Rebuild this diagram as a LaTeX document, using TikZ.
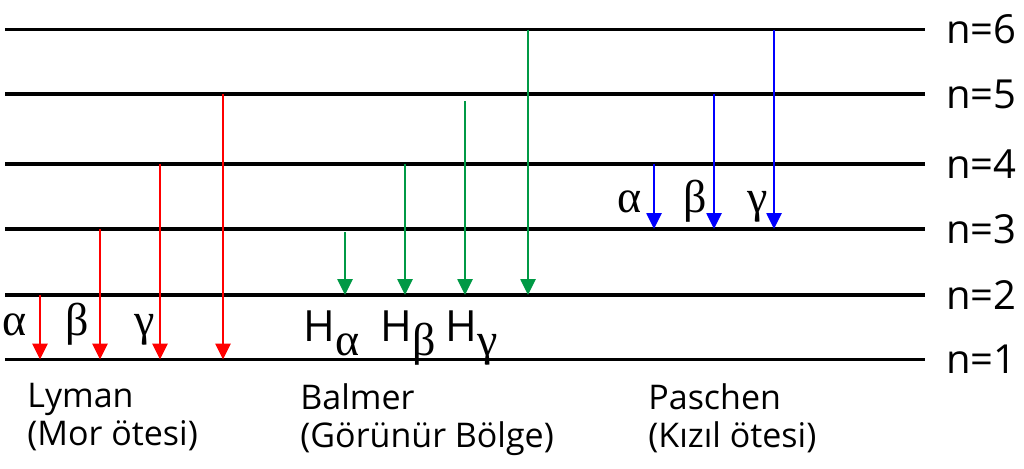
\documentclass[tikz,border=0pt]{standalone}
\usepackage{fontspec}
\setmainfont{Open Sans}
\newfontfamily\greekfont{Liberation Serif}
\usetikzlibrary{arrows.meta}
\definecolor{balmergreen}{rgb}{0,0.6,0.27}

\begin{document}
\begin{tikzpicture}[x=0.5pt,y=-0.5pt,
  level/.style={line width=1.6pt},
  jump/.style={line width=1.3pt,-{Triangle[length=8pt,width=7.5pt]}},
  greek/.style={inner sep=0pt,anchor=base,font=\fontsize{23}{23}\greekfont},
  series/.style={inner sep=0pt,anchor=north west,align=left,font=\fontsize{17}{19}\selectfont}]
\useasboundingbox (0,0) rectangle (1024,468);
% energy levels
\foreach \n/\y in {1/359.5,2/295,3/229,4/164,5/94,6/29.5}{
  \coordinate (n\n) at (5,\y);
  \coordinate (e\n) at (925,\y);
  \draw[level] (n\n) -- (e\n);
  \node[anchor=west,inner sep=0pt,font=\fontsize{20}{20}\selectfont] (l\n) at (946,\y) {n=\n};
}
% Lyman
\foreach \x/\m [count=\i] in {40/2,100/3,160/4,223/5}{
  \coordinate (ly\i) at (\x,0);
  \draw[jump,red] (ly\i |- n\m) -- (ly\i |- n1);
}
\node[greek] (lya) at (15,335) {α};
\node[greek] (lyb) at (77,335) {β};
\node[greek] (lyc) at (145,335) {γ};
% Balmer
\coordinate (bahtop) at (345,232);
\coordinate (bagtop) at (465,101);
\coordinate (ba2) at (405,0);
\coordinate (ba4) at (528,0);
\draw[jump,balmergreen] (bahtop) -- (bahtop |- n2);
\draw[jump,balmergreen] (ba2 |- n4) -- (ba2 |- n2);
\draw[jump,balmergreen] (bagtop) -- (bagtop |- n2);
\draw[jump,balmergreen] (ba4 |- n6) -- (ba4 |- n2);
\foreach \x/\g/\nm in {303/α/ha,380/β/hb,445/γ/hc}{
  \node[inner sep=0pt,anchor=base west,font=\fontsize{21.5}{21.5}\selectfont] (\nm) at (\x,341)
    {H\raisebox{-7pt}{\fontsize{23}{23}\greekfont \g}};
}
% Paschen
\foreach \x/\m [count=\i] in {654/4,714/5,774/6}{
  \coordinate (pa\i) at (\x,0);
  \draw[jump,blue] (pa\i |- n\m) -- (pa\i |- n3);
}
\node[greek] (paa) at (630,212) {α};
\node[greek] (pab) at (695,212) {β};
\node[greek] (pac) at (758,212) {γ};
% series names
\node[series] (lyman) at (27,383) {Lyman\\(Mor ötesi)};
\node[series] (balmer) at (300,383) {Balmer\\(Görünür Bölge)};
\node[series] (paschen) at (648,383) {Paschen\\(Kızıl ötesi)};
\end{tikzpicture}
\end{document}
